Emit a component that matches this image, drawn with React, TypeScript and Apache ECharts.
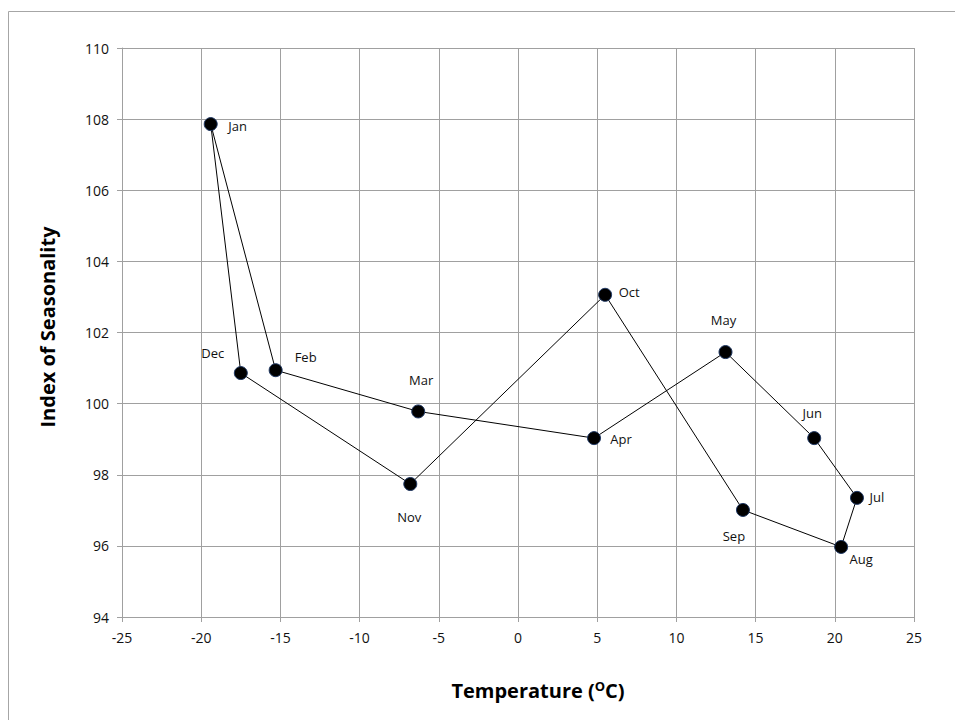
import React, { useEffect, useRef } from "react";
import * as echarts from "echarts";

const months = ["Jan", "Feb", "Mar", "Apr", "May", "Jun", "Jul", "Aug", "Sep", "Oct", "Nov", "Dec"];
const temperature = [-19.4, -15.3, -6.3, 4.8, 13.1, 18.7, 21.4, 20.4, 14.2, 5.5, -6.8, -17.5];
const seasonality = [107.86, 100.94, 99.78, 99.03, 101.45, 99.03, 97.35, 95.97, 97.01, 103.06, 97.74, 100.86];
const xTicks = [-25, 25, 5];
const yTicks = [94, 110, 2];

// label offsets (px) from marker centre, styling only
const labelOffsets: Record<string, [number, number]> = {
  Jan: [27, 2],
  Feb: [30, -13],
  Mar: [3, -31],
  Apr: [27, 1],
  May: [-2, -32],
  Jun: [-2, -25],
  Jul: [20, -1],
  Aug: [20, 12],
  Sep: [-9, 26],
  Oct: [24, -3],
  Nov: [-1, 33],
  Dec: [-28, -20],
};

export default function App() {
  const ref = useRef<HTMLDivElement>(null);
  useEffect(() => {
    document.body.style.margin = "0";
    const chart = echarts.init(ref.current!, undefined, { renderer: "svg" });
    const loop = months.map((_, i) => [temperature[i], seasonality[i]]);
    loop.push([temperature[0], seasonality[0]]);
    const pts = months.map((m, i) => ({
      value: [temperature[i], seasonality[i]],
      name: m,
      label: { offset: labelOffsets[m] },
    }));
    const font = "'Open Sans', 'Liberation Sans', sans-serif";
    chart.setOption({
      animation: false,
      backgroundColor: "#ffffff",
      graphic: [
        {
          type: "rect",
          shape: { x: 8.5, y: 11.5, width: 1000, height: 1000 },
          style: { fill: "none", stroke: "#a6a6a6", lineWidth: 1 },
          silent: true,
          z: -1,
        },
        {
          type: "text",
          x: 538,
          y: 690,
          style: {
            text: "Temperature ({s|O}C)",
            font: `bold 20px ${font}`,
            fill: "#000",
            align: "center",
            verticalAlign: "middle",
            rich: { s: { font: `bold 13px ${font}`, fill: "#000", verticalAlign: "top", padding: [0, 0, 9, 0] } },
          },
        },
        {
          type: "text",
          x: 47,
          y: 327,
          rotation: Math.PI / 2,
          style: {
            text: "Index of Seasonality",
            font: `bold 20px ${font}`,
            fill: "#000",
            align: "center",
            verticalAlign: "middle",
          },
        },
      ],
      grid: { left: 122, top: 48, width: 792, height: 569, containLabel: false },
      xAxis: {
        type: "value",
        min: xTicks[0],
        max: xTicks[1],
        interval: xTicks[2],
        axisLine: { show: true, onZero: false, lineStyle: { color: "#a0a0a0", width: 1 } },
        axisTick: { show: true, inside: false, length: 5, lineStyle: { color: "#a0a0a0" } },
        axisLabel: { color: "#111", fontSize: 14, fontFamily: font, margin: 13 },
        splitLine: { show: true, lineStyle: { color: "#a0a0a0", width: 1 } },
      },
      yAxis: {
        type: "value",
        min: yTicks[0],
        max: yTicks[1],
        interval: yTicks[2],
        axisLine: { show: true, onZero: false, lineStyle: { color: "#a0a0a0", width: 1 } },
        axisTick: { show: true, inside: false, length: 5, lineStyle: { color: "#a0a0a0" } },
        axisLabel: { color: "#111", fontSize: 14, fontFamily: font, margin: 13 },
        splitLine: { show: true, lineStyle: { color: "#a0a0a0", width: 1 } },
      },
      series: [
        {
          type: "line",
          data: loop,
          showSymbol: false,
          symbol: "none",
          lineStyle: { color: "#000", width: 1 },
          silent: true,
          z: 2,
        },
        {
          type: "scatter",
          data: pts,
          symbol: "circle",
          symbolSize: 13,
          itemStyle: { color: "#000", borderColor: "#1f3864", borderWidth: 1, opacity: 1 },
          label: {
            show: true,
            position: "inside",
            formatter: (p: any) => p.name,
            color: "#111",
            fontSize: 13,
            fontFamily: font,
            align: "center",
            verticalAlign: "middle",
          },
          z: 3,
        },
      ],
    });
    return () => chart.dispose();
  }, []);
  return <div ref={ref} style={{ width: 955, height: 720 }} />;
}
